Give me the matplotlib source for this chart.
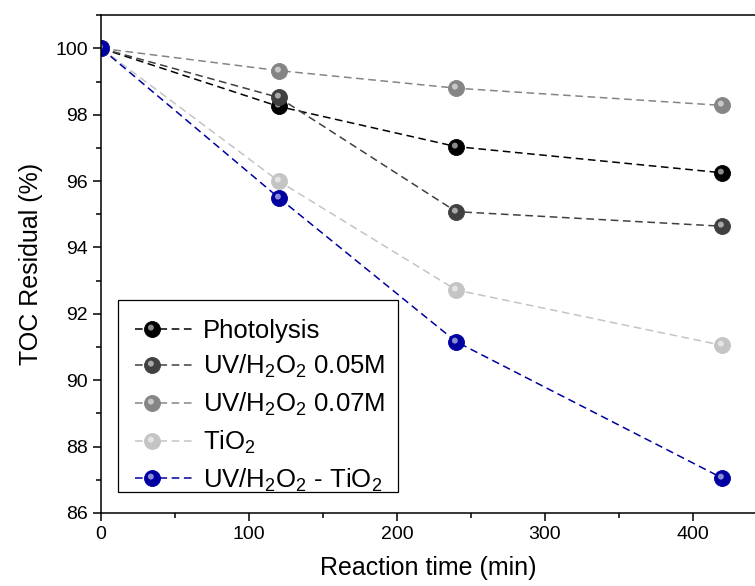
import matplotlib
matplotlib.use("Agg")
import matplotlib.pyplot as plt
from matplotlib.path import Path
from matplotlib.lines import Line2D
from matplotlib.patches import Rectangle
from matplotlib.ticker import MultipleLocator
from matplotlib.legend_handler import HandlerBase

plt.rcParams['font.family'] = ['Liberation Sans', 'DejaVu Sans']
plt.rcParams['mathtext.default'] = 'regular'

# ---- data ----
time_min = [0, 120, 240, 420]
photolysis = [100, 98.25, 97.04, 96.25]
uv_h2o2_005 = [100, 98.52, 95.08, 94.64]
uv_h2o2_007 = [100, 99.33, 98.80, 98.28]
tio2 = [100, 96.0, 92.72, 91.05]
uv_h2o2_tio2 = [100, 95.5, 91.16, 87.05]

series = [
    ("Photolysis", photolysis, "#000000"),
    ("UV/H$_2$O$_2$ 0.05M", uv_h2o2_005, "#404040"),
    ("UV/H$_2$O$_2$ 0.07M", uv_h2o2_007, "#858585"),
    ("TiO$_2$", tio2, "#c4c4c4"),
    ("UV/H$_2$O$_2$ - TiO$_2$", uv_h2o2_tio2, "#0000a0"),
]


class SphereHandler(HandlerBase):
    """dash line with the sphere marker placed left of centre"""
    def create_artists(self, legend, orig_handle, xdescent, ydescent,
                       width, height, fontsize, trans):
        ln, hl = orig_handle
        y = (height - ydescent) / 2.0
        x0, x1 = -xdescent, -xdescent + width
        xm = x0 + 0.28 * width
        line = Line2D([x0, x1], [y, y])
        self.update_prop(line, ln, legend)
        line.set_marker('None')
        mk = Line2D([xm], [y])
        self.update_prop(mk, ln, legend)
        mk.set_linestyle('None')
        h = Line2D([xm], [y])
        self.update_prop(h, hl, legend)
        h.set_linestyle('None')
        arts = [line, mk, h]
        for a in arts:
            a.set_transform(trans)
        return arts


highlight = Path.circle(center=(-0.12, 0.14), radius=0.22)

fig = plt.figure(figsize=(7.55, 5.86), dpi=100)
ax = fig.add_axes([0.134, 0.1246, 0.866, 0.8495])

handles = []
for label, vals, col in series:
    ln, = ax.plot(time_min, vals, linestyle=(0, (5, 3)), color=col, lw=1.1,
                  marker='o', ms=11.5, mfc=col, mec=col, mew=0.6, label=label)
    hl, = ax.plot(time_min, vals, linestyle='none', marker=highlight, ms=7,
                  mfc='white', mec='none', alpha=0.55)
    handles.append((ln, hl))

leg = ax.legend(handles, [s[0] for s in series],
                handler_map={tuple: SphereHandler()},
                loc='lower left', bbox_to_anchor=(0.038, 0.021),
                fontsize=18.5, frameon=False,
                handlelength=2.35, handletextpad=0.3, labelspacing=0.41,
                borderpad=0.35, borderaxespad=0)

# legend frame
ax.add_patch(Rectangle((0.026, 0.042), 0.428, 0.386, transform=ax.transAxes,
                       fill=False, edgecolor='black', lw=0.9, zorder=5,
                       clip_on=False))

ax.set_xlim(0, 442)
ax.set_ylim(86, 101)
ax.xaxis.set_major_locator(MultipleLocator(100))
ax.xaxis.set_minor_locator(MultipleLocator(50))
ax.yaxis.set_major_locator(MultipleLocator(2))
ax.yaxis.set_minor_locator(MultipleLocator(1))
ax.tick_params(which='major', direction='out', length=6, width=1.1, labelsize=14)
ax.tick_params(which='minor', direction='out', length=3.5, width=1.1)
ax.tick_params(axis='x', which='both', top=False)
ax.spines['right'].set_visible(False)
for s in ['left', 'bottom', 'top']:
    ax.spines[s].set_linewidth(1.1)

ax.set_xlabel("Reaction time (min)", fontsize=18, labelpad=9)
ax.set_ylabel("TOC Residual (%)", fontsize=18, labelpad=9)

fig.savefig("out.png", dpi=100)
